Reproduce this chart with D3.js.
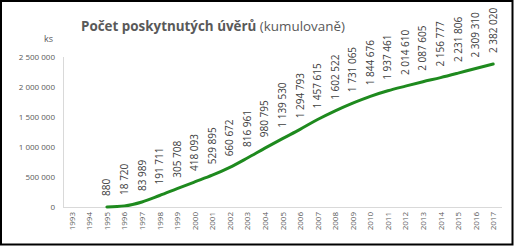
<!DOCTYPE html>
<html>
<head>
<meta charset="utf-8">
<script src="https://cdn.jsdelivr.net/npm/d3@7"></script>
<style>
body { margin: 0; background: #fff; }
text { font-family: "Open Sans", "DejaVu Sans", sans-serif; }
</style>
</head>
<body>
<script>
var years = ["1993", "1994", "1995", "1996", "1997", "1998", "1999", "2000", "2001", "2002", "2003", "2004", "2005",
    "2006", "2007", "2008", "2009", "2010", "2011", "2012", "2013", "2014", "2015", "2016", "2017"];
var loans = [null, null, 880, 18720, 83989, 191711, 305708, 418093, 529895, 660672, 816961, 980795, 1139530,
    1294793, 1457615, 1602522, 1731065, 1844676, 1937461, 2014610, 2087605, 2156777, 2231806, 2309310, 2382020];
var yTicks = [0, 500000, 1000000, 1500000, 2000000, 2500000];

var width = 514;
var height = 246;
var margin = { top: 57, bottom: 39, left: 63, right: 12 };

var svg = d3.select('body')
    .append('svg')
    .attr("width", width)
    .attr("height", height);

// frame
svg.append("rect")
    .attr("x", 1)
    .attr("y", 1)
    .attr("width", width - 2.5)
    .attr("height", height - 2.5)
    .attr("fill", "#fff")
    .attr("stroke", "#000")
    .attr("stroke-width", 2);

var xScale = d3.scaleBand()
    .domain(years)
    .range([margin.left, width - margin.right]);

var yScale = d3.scaleLinear()
    .domain([0, 2500000])
    .range([height - margin.bottom, margin.top]);

var fmt = function (v) {
    return d3.format(",")(v).replace(/,/g, " ");
};

// axis lines
svg.append("line")
    .attr("x1", margin.left + 0.5).attr("x2", margin.left + 0.5)
    .attr("y1", yScale(2500000)).attr("y2", yScale(0))
    .attr("stroke", "#d9d9d9");

svg.append("line")
    .attr("x1", margin.left).attr("x2", width - margin.right)
    .attr("y1", yScale(0) + 0.5).attr("y2", yScale(0) + 0.5)
    .attr("stroke", "#d9d9d9");

// y labels
var yAxis = svg.append("g")
    .attr("transform", "translate(" + (margin.left - 8) + ",0)")
    .call(d3.axisLeft(yScale).tickValues(yTicks).tickSize(0).tickFormat(fmt));
yAxis.select(".domain").remove();
yAxis.selectAll("text")
    .attr("fill", "#595959")
    .style("font-size", "8px")
    .style("font-family", "'Open Sans', sans-serif")
    .attr("x", 0)
    .attr("dy", "0.32em");

svg.append("text")
    .attr("x", 53)
    .attr("y", 42)
    .attr("text-anchor", "end")
    .attr("fill", "#595959")
    .style("font-size", "9px")
    .text("ks");

// x labels
svg.append("g")
    .selectAll("text")
    .data(years)
    .enter()
    .append("text")
    .attr("transform", function (d) {
        return "translate(" + (xScale(d) + xScale.bandwidth() / 2 + 3) + "," + (yScale(0) + 5) + ") rotate(-90)";
    })
    .attr("text-anchor", "end")
    .attr("fill", "#595959")
    .style("font-size", "8px")
    .text(function (d) { return d; });

// line
var pts = years.map(function (d, i) { return { year: d, v: loans[i] }; })
    .filter(function (d) { return d.v !== null; });

var line = d3.line()
    .x(function (d) { return xScale(d.year) + xScale.bandwidth() / 2; })
    .y(function (d) { return yScale(d.v); })
    .curve(d3.curveMonotoneX);

svg.append("path")
    .datum(pts)
    .attr("d", line)
    .attr("fill", "none")
    .attr("stroke", "#1e8a1e")
    .attr("stroke-width", 3)
    .attr("stroke-linecap", "round");

// data labels
svg.append("g")
    .selectAll("text")
    .data(pts)
    .enter()
    .append("text")
    .attr("transform", function (d) {
        return "translate(" + (xScale(d.year) + xScale.bandwidth() / 2 + 3.5) + "," + (yScale(d.v) - 11) + ") rotate(-90)";
    })
    .attr("fill", "#404040")
    .style("font-size", "10px")
    .text(function (d) { return fmt(d.v); });

// title
var title = svg.append("text")
    .attr("x", 81)
    .attr("y", 31)
    .attr("fill", "#595959")
    .style("font-size", "13.4px");
title.append("tspan").style("font-weight", "bold").text("Počet poskytnutých úvěrů");
title.append("tspan").text(" (kumulovaně)");
</script>
</body>
</html>
